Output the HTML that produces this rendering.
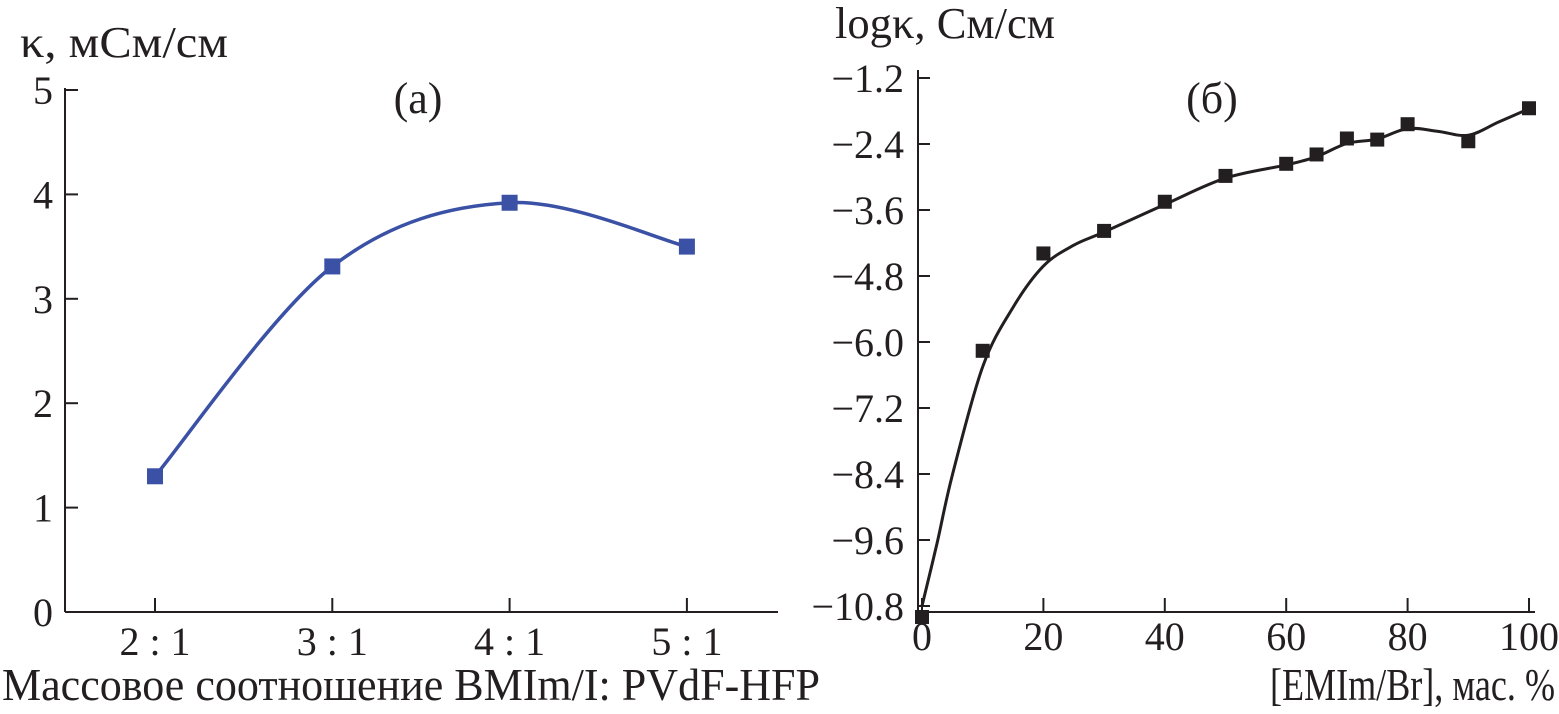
<!DOCTYPE html>
<html><head><meta charset="utf-8"><style>
body{margin:0;background:#fff}
svg{display:block;font-family:"Liberation Serif",serif}
text{fill:#231f20}
</style></head><body>
<svg width="1559" height="714" viewBox="0 0 1559 714">
<g id="A"></g>
<g id="B"></g>
</svg>
<script>
const catsA=["2 : 1","3 : 1","4 : 1","5 : 1"];
const valsA=[1.3,3.31,3.92,3.5];
const yTicksA=[0,1,2,3,4,5];
const xB=[0,10,20,30,40,50,60,65,70,75,80,90,100];
const yB=[-11.0,-6.16,-4.39,-3.98,-3.45,-2.98,-2.76,-2.59,-2.30,-2.32,-2.04,-2.35,-1.75];
const fitX=[0,2.5,5,10,15,20,25,30,40,50,60,65,70,75,80,85,90,95,100];
const fitY=[-10.8,-9.65,-8.42,-6.45,-5.37,-4.62,-4.24,-4.0,-3.5,-3.02,-2.78,-2.63,-2.39,-2.31,-2.12,-2.17,-2.24,-2.0,-1.76];
const yTicksB=[-1.2,-2.4,-3.6,-4.8,-6.0,-7.2,-8.4,-9.6,-10.8];
const xTicksB=[0,20,40,60,80,100];

const NS="http://www.w3.org/2000/svg";
function mk(p,t,a,txt){const e=document.createElementNS(NS,t);for(const k in a)e.setAttribute(k,a[k]);if(txt!=null)e.textContent=txt;p.appendChild(e);return e;}
function spline(pts){let d="M"+pts[0][0]+","+pts[0][1];for(let i=0;i<pts.length-1;i++){const p0=pts[Math.max(0,i-1)],p1=pts[i],p2=pts[i+1],p3=pts[Math.min(pts.length-1,i+2)];
const c1=[p1[0]+(p2[0]-p0[0])/6,p1[1]+(p2[1]-p0[1])/6],c2=[p2[0]-(p3[0]-p1[0])/6,p2[1]-(p3[1]-p1[1])/6];
d+=" C"+c1+" "+c2+" "+p2;}return d;}
const FS=40;

// Chart A
const A=document.getElementById('A');
const xA=i=>155+i*177.3, yA=v=>612-v*104.4;
let e=mk(A,'line',{x1:65,y1:88,x2:65,y2:612,stroke:'#231f20','stroke-width':2});

e=mk(A,'line',{x1:65,y1:612,x2:778,y2:612,stroke:'#231f20','stroke-width':2});

yTicksA.forEach(v=>{mk(A,'line',{x1:65,y1:yA(v),x2:78,y2:yA(v),stroke:'#231f20','stroke-width':2});
e=mk(A,'text',{x:53,y:yA(v)+14,'font-size':FS,'text-anchor':'end'},v);
});
catsA.forEach((c,i)=>{mk(A,'line',{x1:xA(i),y1:598,x2:xA(i),y2:612,stroke:'#231f20','stroke-width':2});
e=mk(A,'text',{x:xA(i),y:655,'font-size':FS,'text-anchor':'middle'},c);
});
e=mk(A,'path',{d:spline(valsA.map((v,i)=>[xA(i),yA(v)])),fill:'none',stroke:'#3a51a6','stroke-width':3.5});

valsA.forEach((v,i)=>{e=mk(A,'rect',{x:xA(i)-8,y:yA(v)-8,width:16,height:16,fill:'#3a51a6'});
});
e=mk(A,'text',{x:20,y:57,'font-size':44,textLength:208,lengthAdjust:'spacingAndGlyphs'},'κ, мСм/см');
e=mk(A,'text',{x:418,y:113,'font-size':44,'text-anchor':'middle'},'(a)');
e=mk(A,'text',{x:2,y:700,'font-size':46,textLength:818,lengthAdjust:'spacingAndGlyphs'},'Массовое соотношение BMIm/I: PVdF-HFP');

// Chart B
const B=document.getElementById('B');
const sx=v=>922+v*6.07, sy=v=>78+(-1.2-v)*(528/9.6);
e=mk(B,'line',{x1:918,y1:70,x2:918,y2:612,stroke:'#231f20','stroke-width':2});

e=mk(B,'line',{x1:918,y1:612,x2:1535,y2:612,stroke:'#231f20','stroke-width':2});

yTicksB.forEach(v=>{mk(B,'line',{x1:918,y1:sy(v),x2:930,y2:sy(v),stroke:'#231f20','stroke-width':2});
e=mk(B,'text',{x:904,y:sy(v)+14,'font-size':FS,'text-anchor':'end'},v.toFixed(1).replace('-','−'));
});
xTicksB.forEach(v=>{mk(B,'line',{x1:sx(v),y1:598,x2:sx(v),y2:612,stroke:'#231f20','stroke-width':2});
e=mk(B,'text',{x:sx(v),y:650,'font-size':FS,'text-anchor':'middle'},v);
});
e=mk(B,'path',{d:spline(fitX.map((x,i)=>[sx(x),sy(fitY[i])])),fill:'none',stroke:'#231f20','stroke-width':3});

xB.forEach((x,i)=>{e=mk(B,'rect',{x:sx(x)-7,y:sy(yB[i])-7,width:14,height:14,fill:'#231f20'});
});
e=mk(B,'text',{x:835,y:38,'font-size':44,textLength:220,lengthAdjust:'spacingAndGlyphs'},'logκ, См/см');
e=mk(B,'text',{x:1212,y:113,'font-size':44,'text-anchor':'middle'},'(б)');
e=mk(B,'text',{x:1270,y:700,'font-size':46,textLength:285,lengthAdjust:'spacingAndGlyphs'},'[EMIm/Br], мас. %');
</script>
</body></html>
